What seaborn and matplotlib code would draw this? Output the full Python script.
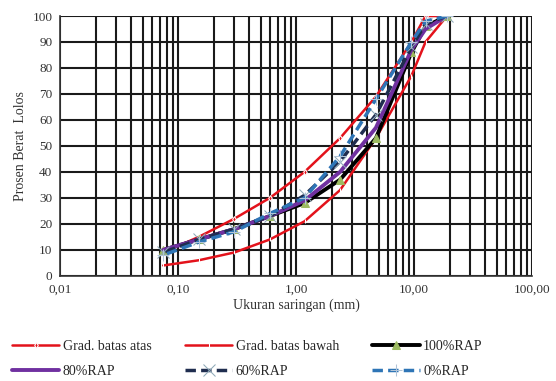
import numpy as np
import pandas as pd
import matplotlib
matplotlib.use('Agg')
import matplotlib.pyplot as plt
import seaborn as sns
from matplotlib.ticker import FixedLocator, LogLocator, FuncFormatter

sns.set_theme(style="white")
plt.rcParams['font.family'] = ['Liberation Serif', 'DejaVu Serif']

# ukuran saringan (mm)
ukuran = [19, 12.5, 9.5, 4.75, 2.36, 1.18, 0.6, 0.3, 0.15, 0.075]

# batas gradasi
batas_atas = [100, 100, 90, 69, 53, 40, 30, 22, 15, 9]
batas_bawah = [100, 90, 77, 53, 33, 21, 14, 9, 6, 4]

# campuran
rap100 = [100, 96, 86, 53, 37, 28, 23, 18, 14, 10]
rap80 = [100, 95, 87, 57, 40, 29, 23, 18, 14, 10]
rap60 = [100, 97, 88, 62, 44, 31, 23, 18, 14, 9]
rap0 = [100, 98, 90, 68, 46, 30, 24, 17, 13, 8]

fig = plt.figure(figsize=(5.56, 3.81), dpi=100)
ax = fig.add_axes([0.108, 0.276, 0.849, 0.682])

series = [
    ('Grad. batas atas', batas_atas, dict(color='#e3121b', lw=1.8, marker='d', ms=3, linestyle='-')),
    ('Grad. batas bawah', batas_bawah, dict(color='#e3121b', lw=1.8, marker='|', ms=3, linestyle='-')),
    ('100%RAP', rap100, dict(color='black', lw=2.8, marker='^', ms=6, mfc='#9dbb61', mec='#9dbb61', linestyle='-')),
    ('80%RAP', rap80, dict(color='#7030a0', lw=2.8, marker='None', linestyle='-')),
    ('60%RAP', rap60, dict(color='#1f2d4f', lw=2.5, marker='x', ms=8, mec='#8ea9b8', linestyle=(0, (3, 1.5)))),
    ('0%RAP', rap0, dict(color='#2e75b6', lw=2.5, marker='+', ms=9, mec='#b0c4d8', linestyle=(0, (3, 1.5)))),
]

for label, vals, kw in series:
    sns.lineplot(x=ukuran, y=vals, ax=ax, sort=False, label=label, **kw)

ax.set_xscale('log')
ax.set_xlim(0.01, 100)
ax.set_ylim(0, 100)
ax.xaxis.set_major_locator(FixedLocator([0.01, 0.1, 1, 10, 100]))
ax.xaxis.set_minor_locator(LogLocator(base=10, subs=np.arange(2, 10)))
ax.xaxis.set_major_formatter(FuncFormatter(lambda v, p: f'{v:.2f}'.replace('.', ',')))
ax.set_yticks(range(0, 101, 10))
ax.grid(True, which='both', axis='x', color='#1a1a1a', lw=1.5)
ax.grid(True, which='major', axis='y', color='#1a1a1a', lw=1.5)
ax.set_axisbelow(True)

for s in ['top', 'right']:
    ax.spines[s].set_visible(False)
for s in ['left', 'bottom']:
    ax.spines[s].set_color('#333333')
    ax.spines[s].set_linewidth(1.2)

ax.tick_params(axis='both', which='major', labelsize=9.5, colors='#333333', length=4, direction='inout')
ax.tick_params(axis='x', which='minor', length=0)
ax.set_xlabel('Ukuran saringan (mm)', fontsize=10, color='#333333', labelpad=2)
ax.set_ylabel('Prosen Berat  Lolos', fontsize=10, color='#333333')

# urutan legenda per baris
handles, labels = ax.get_legend_handles_labels()
order = [0, 3, 1, 4, 2, 5]
ax.legend([handles[i] for i in order], [labels[i] for i in order],
          loc='upper left', bbox_to_anchor=(0.022, 0.108), bbox_transform=fig.transFigure,
          ncol=3, frameon=False, fontsize=10, handlelength=3.4, handletextpad=0.25,
          columnspacing=2.4, labelspacing=0.9, borderaxespad=0, borderpad=0)

fig.savefig('out.png', dpi=100)
